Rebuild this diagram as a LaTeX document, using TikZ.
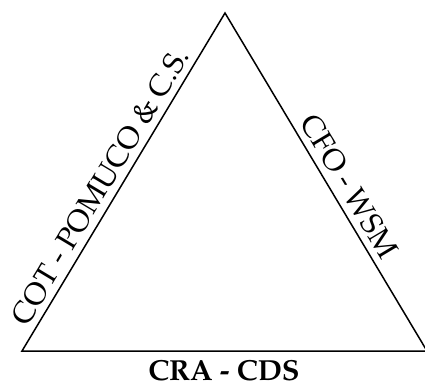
\documentclass[tikz,border=0pt]{standalone}
\usepackage[T1]{fontenc}
\renewcommand{\rmdefault}{ppl}
\begin{document}
\begin{tikzpicture}[x=1pt,y=1pt,
  sidelabel/.style={font=\fontsize{30}{36}\selectfont, sloped, inner sep=0pt}]
\useasboundingbox (0,0) rectangle (425,383);
\coordinate (A) at (225,370);
\coordinate (B) at (22,32);
\coordinate (C) at (427,32);
\draw[line width=1.5pt] (A) -- (B) -- (C) -- cycle;
\path (B) -- node[sidelabel, pos=0.46, above=7pt] (lt) {COT - POMUCO \& C.S.} (A);
\path (A) -- node[sidelabel, pos=0.54, above=7pt] (rt) {CFO - WSM} (C);
\node[font=\fontsize{29}{34}\selectfont\bfseries, anchor=base, inner sep=0pt] (bt) at (224,3) {CRA - CDS};
\end{tikzpicture}
\end{document}
